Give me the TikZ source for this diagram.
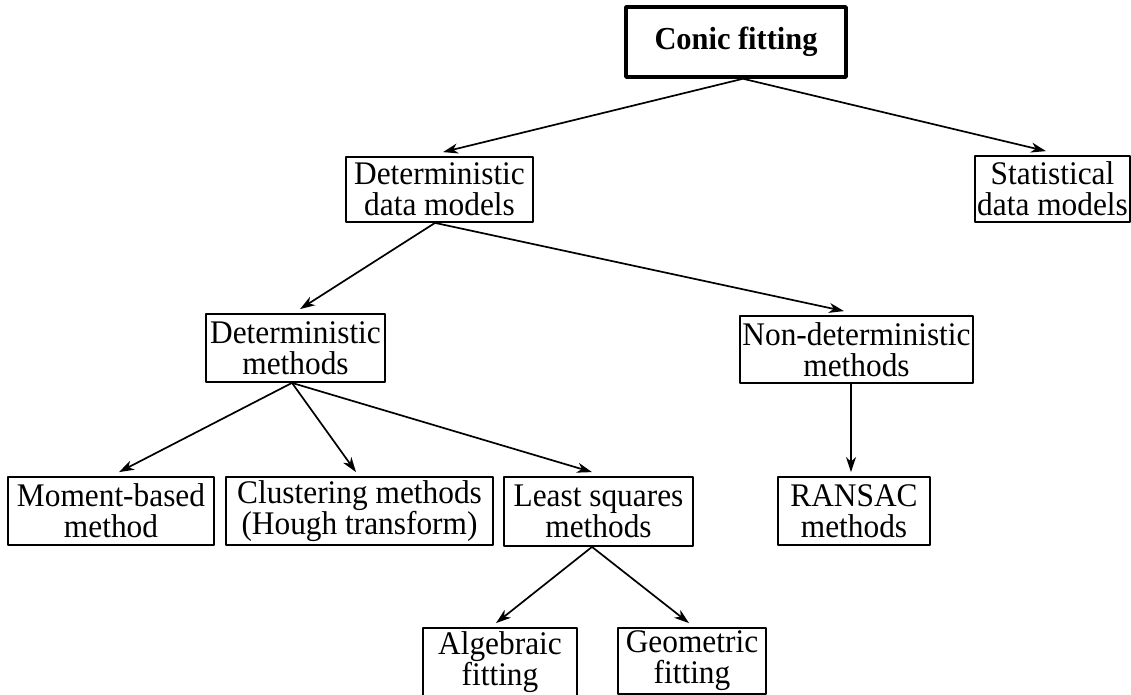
\documentclass[tikz,border=0pt]{standalone}
\usepackage{fontspec}
\setmainfont{Liberation Serif}[FakeStretch=0.95]
\usetikzlibrary{arrows.meta}
\begin{document}
\begin{tikzpicture}[x=1pt,y=-1pt,>={Stealth[length=15pt,width=10pt,inset=4.5pt]}, line join=round,
	font=\fontsize{33}{31}\selectfont,
	box/.style={draw,line width=1.8pt,align=center,inner sep=0pt},
	arr/.style={->,line width=1.7pt}]
	\useasboundingbox (0,0) rectangle (1131,695);
	\clip (0,0) rectangle (1131,695);
	\node[box,line width=3.5pt,font=\fontsize{32}{31}\selectfont\bfseries,minimum width=220,minimum height=70] (conic) at (736,42) {Conic fitting};
	\node[box,minimum width=187,minimum height=65] (ddm) at (439.5,189.5) {Deterministic\\data models};
	\node[box,minimum width=155,minimum height=66] (sdm) at (1052.5,189) {Statistical\\data models};
	\node[box,minimum width=179,minimum height=68] (dm) at (295.5,348) {Deterministic\\methods};
	\node[box,minimum width=233,minimum height=67] (ndm) at (856.5,349.5) {Non-deterministic\\methods};
	\node[box,minimum width=206,minimum height=68] (mom) at (111,511) {Moment-based\\method};
	\node[box,minimum width=267,minimum height=68] (clu) at (359.5,511) {Clustering methods\\(Hough transform)};
	\node[box,minimum width=189,minimum height=69] (lsq) at (598.5,511.5) {Least squares\\methods};
	\node[box,minimum width=152,minimum height=68] (ran) at (854,511) {RANSAC\\methods};
	\node[box,minimum width=154,minimum height=68] (alg) at (500,662) {Algebraic\\fitting};
	\node[box,minimum width=148,minimum height=66] (geo) at (692,661) {Geometric\\fitting};
	\foreach \a/\sa/\b/\sb in {conic/7/ddm/3.5, conic/7/sdm/-6.5, ddm/-4.5/dm/4.5, ddm/-4.5/ndm/-12.5,
		dm/-3.5/mom/8, dm/-3.5/clu/-3.5, dm/-3.5/lsq/-6.5, ndm/-5.5/ran/-3, lsq/-6.5/alg/-4, lsq/-6.5/geo/-3}{
		\draw[arr] ([xshift=\sa pt]\a.south) -- ([xshift=\sb pt,yshift=4pt]\b.north);
	}
\end{tikzpicture}
\end{document}
